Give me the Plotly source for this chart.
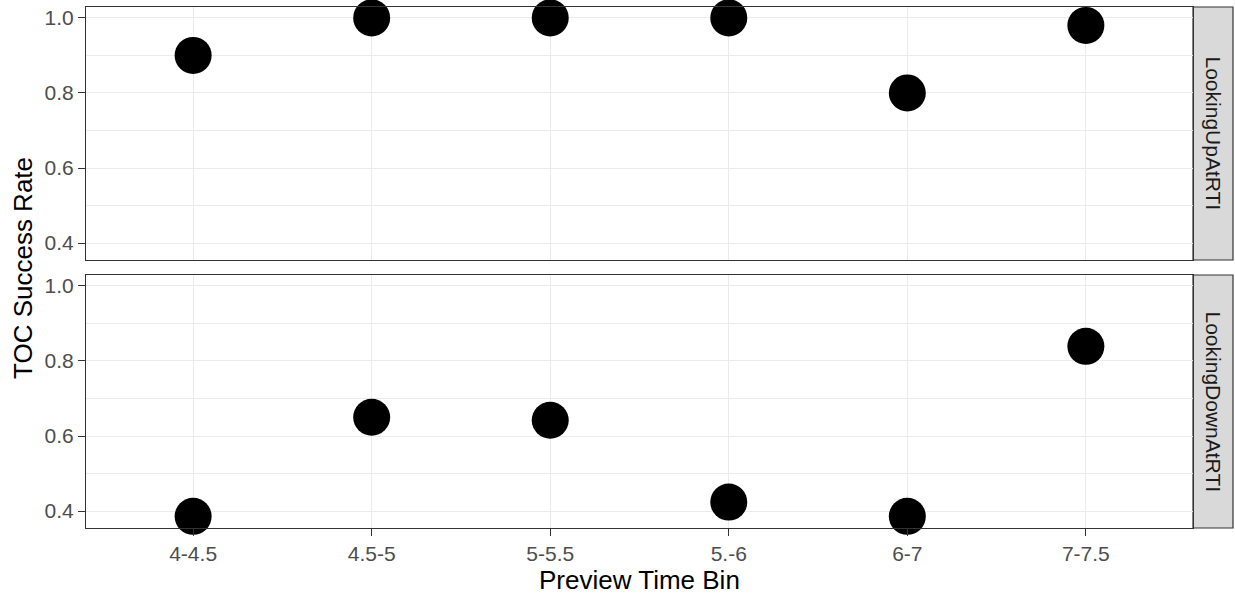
import plotly.graph_objects as go
from plotly.subplots import make_subplots

categories = ["4-4.5", "4.5-5", "5-5.5", "5.-6", "6-7", "7-7.5"]
looking_up = [0.90, 1.00, 1.00, 1.00, 0.80, 0.98]
looking_down = [0.386, 0.65, 0.642, 0.424, 0.386, 0.839]
panel_labels = ["LookingUpAtRTI", "LookingDownAtRTI"]
y_ticks = [0.4, 0.6, 0.8, 1.0]
y_tick_text = ["0.4", "0.6", "0.8", "1.0"]

W, H = 1235, 594
L, R, T, B = 86, 1193, 7, 528
pw, ph = R - L, B - T
FONT = "Liberation Sans, Arial, sans-serif"
TICK_SIZE = 21
TITLE_SIZE = 26

fig = make_subplots(rows=2, cols=1, shared_xaxes=True, vertical_spacing=0)

for i, vals in enumerate([looking_up, looking_down]):
    fig.add_trace(go.Scatter(
        x=categories, y=vals, mode="markers",
        marker=dict(color="black", size=37, line=dict(width=0)),
        showlegend=False, cliponaxis=False, hoverinfo="skip"), row=i + 1, col=1)

top_dom = [(B - 260) / ph, 1.0]
bot_dom = [0.0, (B - 275) / ph]

common_y = dict(
    range=[0.355, 1.029], tickvals=y_ticks, ticktext=y_tick_text,
    showgrid=True, gridcolor="#EBEBEB", gridwidth=1.3,
    minor=dict(tickvals=[0.5, 0.7, 0.9], showgrid=True, gridcolor="#EBEBEB", gridwidth=0.7, ticks=""),
    showline=True, linecolor="#333333", linewidth=1.2, mirror=True,
    ticks="outside", ticklen=7, tickcolor="#333333", tickwidth=1.2,
    tickfont=dict(family=FONT, size=TICK_SIZE, color="#4D4D4D"),
    zeroline=False,
)
common_x = dict(
    type="category", categoryorder="array", categoryarray=categories,
    range=[-0.6, 5.6],
    showgrid=True, gridcolor="#EBEBEB", gridwidth=1.3,
    showline=True, linecolor="#333333", linewidth=1.2, mirror=True,
    zeroline=False,
)

fig.update_layout(
    width=W, height=H,
    margin=dict(l=L, r=W - R, t=T, b=H - B),
    paper_bgcolor="white", plot_bgcolor="white",
    font=dict(family=FONT),
    yaxis=dict(domain=top_dom, **common_y),
    yaxis2=dict(domain=bot_dom, **common_y),
    xaxis=dict(showticklabels=False, ticks="", **common_x),
    xaxis2=dict(showticklabels=True, ticks="outside", ticklen=7, tickcolor="#333333", tickwidth=1.2,
                tickfont=dict(family=FONT, size=TICK_SIZE, color="#4D4D4D"), **common_x),
)

# strips
strip_x0, strip_x1 = 1.0, (1233 - L) / pw
for lbl, dom in zip(panel_labels, [top_dom, bot_dom]):
    fig.add_shape(type="rect", xref="paper", yref="paper",
                  x0=strip_x0, x1=strip_x1, y0=dom[0], y1=dom[1],
                  fillcolor="#D9D9D9", line=dict(color="#333333", width=1.2), layer="below")
    fig.add_annotation(xref="paper", yref="paper", x=(strip_x0 + strip_x1) / 2,
                       y=(dom[0] + dom[1]) / 2, text=lbl, textangle=90, showarrow=False,
                       font=dict(family=FONT, size=TICK_SIZE, color="#1A1A1A"),
                       xanchor="center", yanchor="middle")

fig.add_annotation(xref="paper", yref="paper", x=0.5, y=(B - 580) / ph,
                   text="Preview Time Bin", showarrow=False,
                   font=dict(family=FONT, size=TITLE_SIZE, color="black"),
                   xanchor="center", yanchor="middle")
fig.add_annotation(xref="paper", yref="paper", x=(23 - L) / pw, y=(B - 268) / ph,
                   text="TOC Success Rate", showarrow=False, textangle=-90,
                   font=dict(family=FONT, size=TITLE_SIZE, color="black"),
                   xanchor="center", yanchor="middle")

fig.write_html("out.html", config={"displayModeBar": False},
               post_script="document.body.style.margin='0';document.body.style.overflow='hidden';")
